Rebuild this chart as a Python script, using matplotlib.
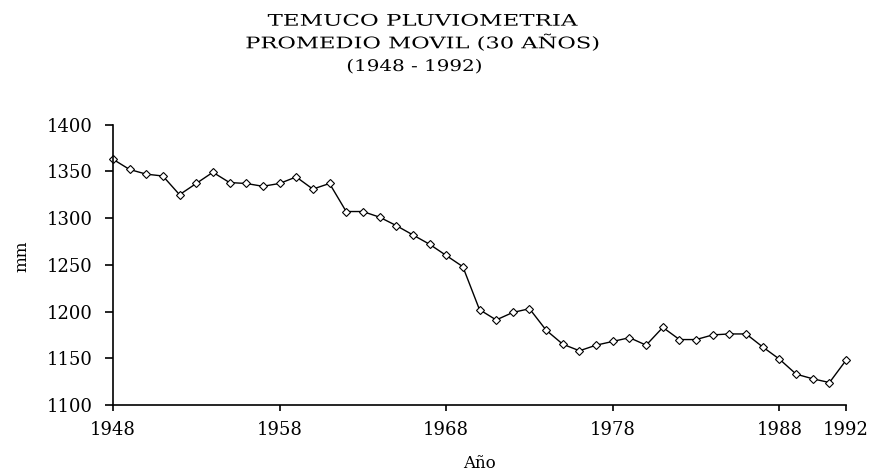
import numpy as np
import matplotlib
matplotlib.use("Agg")
import matplotlib.pyplot as plt
from matplotlib.patheffects import AbstractPathEffect
from matplotlib.transforms import Affine2D

# 30-year moving average, Temuco rainfall
years = np.arange(1948, 1993)
mm = [1363, 1352, 1347, 1345, 1325, 1337, 1349, 1338, 1337, 1334,
      1337, 1344, 1331, 1337, 1307, 1307, 1301, 1292, 1282, 1272,
      1260, 1248, 1202, 1191, 1199, 1203, 1180, 1165, 1158, 1164,
      1168, 1172, 1164, 1183, 1170, 1170, 1175, 1176, 1176, 1162,
      1149, 1133, 1128, 1124, 1148]
xticks = [1948, 1958, 1968, 1978, 1988, 1992]
title_lines = ['TEMUCO PLUVIOMETRIA', 'PROMEDIO MOVIL (30 AÑOS)', '(1948 - 1992)']


class Stretch(AbstractPathEffect):
    """widen the glyphs horizontally around the middle of the line"""
    def __init__(self, sx):
        super().__init__()
        self.sx = sx

    def draw_path(self, renderer, gc, tpath, affine, rgbFace=None):
        ext = tpath.get_extents()
        cx = (ext.x0 + ext.x1) / 2
        t = Affine2D().translate(-cx, 0).scale(self.sx, 1).translate(cx, 0)
        renderer.draw_path(gc, tpath, t + affine, rgbFace)


plt.rcParams['font.family'] = ['DejaVu Serif', 'Liberation Serif']

fig = plt.figure(figsize=(8.75, 4.72), dpi=100)
ax = fig.add_axes([0.129, 0.142, 0.838, 0.594])

ax.plot(years, mm, color='black', lw=1.0, marker='D', ms=4.5,
        mfc='white', mec='black', mew=0.8, clip_on=False)

ax.set_xlim(1948, 1992)
ax.set_ylim(1100, 1400)
ax.set_xticks(xticks)
ax.set_yticks(np.arange(1100, 1401, 50))
ax.spines['top'].set_visible(False)
ax.spines['right'].set_visible(False)
for sp in ['left', 'bottom']:
    ax.spines[sp].set_linewidth(1.2)
ax.tick_params(direction='out', width=1.2, labelsize=13)
ax.tick_params(axis='y', length=5.5, pad=9)
ax.tick_params(axis='x', length=4.5, pad=7)

ax.set_ylabel('mm', fontsize=12)
ax.yaxis.set_label_coords(-0.113, 0.53)
ax.set_xlabel('Año', fontsize=12)
ax.xaxis.set_label_coords(0.5, -0.178)

# title lines: (x centre, baseline y, target width in px)
title_pos = [(0.483, 0.9456, 310), (0.483, 0.8977, 355), (0.474, 0.8496, 137)]
texts = []
for s, (x, y, w) in zip(title_lines, title_pos):
    texts.append(fig.text(x, y, s, ha='center', va='baseline', fontsize=11.5))

fig.canvas.draw()
r = fig.canvas.get_renderer()
for t, (x, y, w) in zip(texts, title_pos):
    bw = t.get_window_extent(r).width
    t.set_path_effects([Stretch(w / bw)])

fig.savefig('out.png', dpi=100)
